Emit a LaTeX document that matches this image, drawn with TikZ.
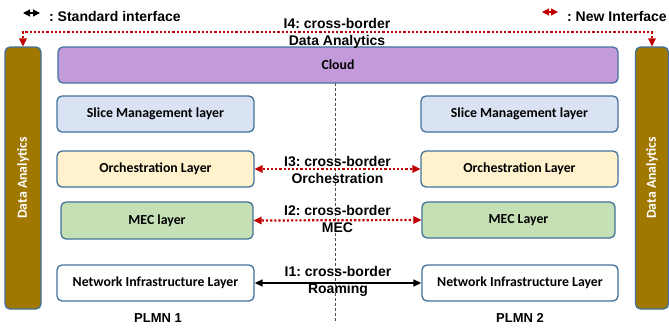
\documentclass[tikz,border=0pt]{standalone}
\usepackage{fontspec}
\setmainfont{Liberation Sans}
\newfontfamily\carl{Carlito}
\usetikzlibrary{arrows.meta}
\frenchspacing
\definecolor{bordc}{HTML}{41719C}
\definecolor{cloudc}{HTML}{C39BDB}
\definecolor{slicec}{HTML}{DAE3F3}
\definecolor{orchc}{HTML}{FFF2CC}
\definecolor{mecc}{HTML}{C5E0B4}
\definecolor{barc}{HTML}{A07800}
\definecolor{newred}{HTML}{C00000}
\tikzset{
  layer/.style={draw=bordc, line width=1.3pt, rounded corners=5pt, inner sep=0pt,
    font=\carl\bfseries\fontsize{13.8}{16}\selectfont, text=black},
  dabar/.style={draw=bordc, line width=1.3pt, rounded corners=5pt, fill=barc, inner sep=0pt},
  bartext/.style={rotate=90, text=white, font=\carl\bfseries\fontsize{13.8}{16}\selectfont},
  newif/.style={draw=newred, line width=2.2pt, dotted,
    {Triangle[length=8pt,width=8pt,fill=newred,line width=0pt]}-{Triangle[length=8pt,width=8pt,fill=newred,line width=0pt]}},
  stdif/.style={draw=black, line width=1.6pt,
    {Triangle[length=8pt,width=7pt]}-{Triangle[length=8pt,width=7pt]}},
  iflabel/.style={font=\bfseries\fontsize{14}{17}\selectfont, align=center, inner sep=0pt},
  plmn/.style={font=\bfseries\fontsize{13}{15}\selectfont, inner sep=0pt},
}
\begin{document}
\begin{tikzpicture}[x=1pt,y=-1pt]
\useasboundingbox (0,0) rectangle (669,327);
% center dashed line
\coordinate (vtop) at (335,83);
\coordinate (vbot) at (335,323);
\draw[draw=black!70, line width=0.6pt, dash pattern=on 3pt off 2pt] (vtop) -- (vbot);
% bars
\node[dabar, minimum width=36pt, minimum height=262pt] (barL) at (23,178) {};
\node[dabar, minimum width=33pt, minimum height=262pt] (barR) at (652,178) {};
\node[bartext] (barLt) at (barL.center) {Data Analytics};
\node[bartext] (barRt) at (barR.center) {Data Analytics};
% cloud
\node[layer, fill=cloudc, minimum width=560pt, minimum height=36pt] (cloud) at (338,65) {Cloud};
% left stack
\node[layer, fill=slicec, minimum width=197pt, minimum height=36pt] (sliceL) at (155.5,114) {Slice Management layer};
\node[layer, fill=orchc, minimum width=197pt, minimum height=36pt] (orchL) at (155.5,169) {Orchestration Layer};
\node[layer, fill=mecc, minimum width=192pt, minimum height=37pt] (mecL) at (157,220.5) {MEC layer};
\node[layer, fill=white, minimum width=197pt, minimum height=36pt] (netL) at (155.5,283) {Network Infrastructure Layer};
% right stack
\node[layer, fill=slicec, minimum width=197pt, minimum height=36pt] (sliceR) at (519.5,114) {Slice Management layer};
\node[layer, fill=orchc, minimum width=197pt, minimum height=36pt] (orchR) at (519.5,169) {Orchestration Layer};
\node[layer, fill=mecc, minimum width=193pt, minimum height=36pt] (mecR) at (518.5,220) {MEC Layer};
\node[layer, fill=white, minimum width=196pt, minimum height=36pt] (netR) at (520,283) {Network Infrastructure Layer};
% interfaces
\draw[newif] (orchL.east) -- (orchR.west) node[iflabel, midway, yshift=-1pt] (l3) {I3: cross-border\\Orchestration};
\draw[newif] (mecL.east) -- (mecR.west) node[iflabel, midway, yshift=1pt] (l2) {I2: cross-border\\MEC};
\draw[stdif] (netL.east) -- (netR.west) node[iflabel, midway, yshift=1.5pt] (l1) {I1: cross-border\\Roaming};
\draw[newif] (barL.north) -- ++(0,-14) -| (barR.north);
\node[iflabel] (l4) at (337,33) {I4: cross-border\\Data Analytics};
% PLMN labels
\node[plmn] (p1) at (158,318) {PLMN 1};
\node[plmn] (p2) at (520,318) {PLMN 2};
% legend
\coordinate (sa) at (23,13);
\coordinate (sb) at (40,13);
\draw[draw=black, line width=1.2pt, {Triangle[length=7pt,width=7pt]}-{Triangle[length=7pt,width=7pt]}] (sa) -- (sb);
\node[iflabel, anchor=west] (st) at (49,16) {: Standard interface};
\coordinate (na) at (542,12);
\coordinate (nb) at (558,12);
\draw[draw=newred, line width=1.2pt, {Triangle[length=7pt,width=7pt,fill=newred]}-{Triangle[length=7pt,width=7pt,fill=newred]}] (na) -- (nb);
\node[iflabel, anchor=west] (nt) at (567,16) {: New Interface};
\end{tikzpicture}
\end{document}
